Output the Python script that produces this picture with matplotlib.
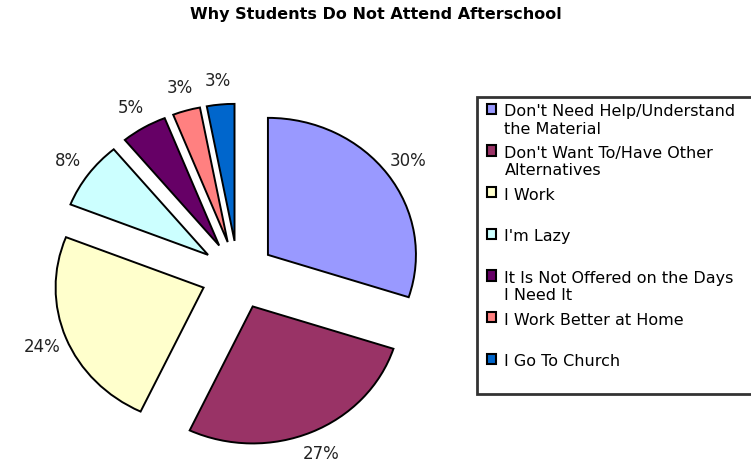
import matplotlib.pyplot as plt
from matplotlib.patches import Rectangle
from matplotlib.legend_handler import HandlerPatch

# data
reasons = [
    "Don't Need Help/Understand\nthe Material",
    "Don't Want To/Have Other\nAlternatives",
    "I Work\n ",
    "I'm Lazy\n ",
    "It Is Not Offered on the Days\nI Need It",
    "I Work Better at Home\n ",
    "I Go To Church\n ",
]
shares = [30, 27, 24, 8, 5, 3, 3]
colors = ['#9999FF', '#993366', '#FFFFCC', '#CCFFFF', '#660066', '#FF8080', '#0066CC']

W, H = 751, 463
fig = plt.figure(figsize=(W / 100, H / 100), dpi=100)
fig.patch.set_facecolor('white')

# pie axes: slightly wider than tall, like the Excel original
sx, sy = 148.0, 137.0
cx, cy = 238, 275
left_px, right_px, top_px, bot_px = 0, 470, 40, 463
ax = fig.add_axes([left_px / W, 1 - bot_px / H, (right_px - left_px) / W, (bot_px - top_px) / H])

wedges, texts, autotexts = ax.pie(
    shares, colors=colors, startangle=90, counterclock=False,
    explode=[0.25] * len(shares), radius=1.0,
    wedgeprops=dict(edgecolor='black', linewidth=1.4),
    autopct=lambda p: f'{p:.0f}%', pctdistance=1.17,
    textprops=dict(fontsize=12, color='#222222'),
)
ax.set_aspect('auto')
ax.set_xlim((left_px - cx) / sx, (right_px - cx) / sx)
ax.set_ylim((cy - bot_px) / sy, (cy - top_px) / sy)
ax.axis('off')

fig.text(0.5, 1 - 15 / H, 'Why Students Do Not Attend Afterschool',
         ha='center', va='center', fontsize=11.5, fontweight='bold')


# legend swatch sits on the first line of a two-line label
def top_swatch(legend, orig_handle, xdescent, ydescent, width, height, fontsize):
    return Rectangle((-xdescent + 0.15 * fontsize, -ydescent + 0.75 * fontsize), width, height)


box_top = 1 - 97 / H
leg = fig.legend(wedges, reasons, loc='upper left',
                 bbox_to_anchor=(477 / W, box_top - 0.01, 290 / W, 0.01),
                 mode='expand',
                 handler_map={type(wedges[0]): HandlerPatch(patch_func=top_swatch)},
                 fontsize=11.5, frameon=True, fancybox=False,
                 edgecolor='black', handlelength=0.62, handleheight=0.62,
                 handletextpad=0.65, labelspacing=0.58, borderpad=0.45,
                 borderaxespad=0)
leg.get_frame().set_linewidth(2)
for h in leg.legend_handles:
    h.set_edgecolor('black')
    h.set_linewidth(1.5)

fig.savefig('out.png', dpi=100)
